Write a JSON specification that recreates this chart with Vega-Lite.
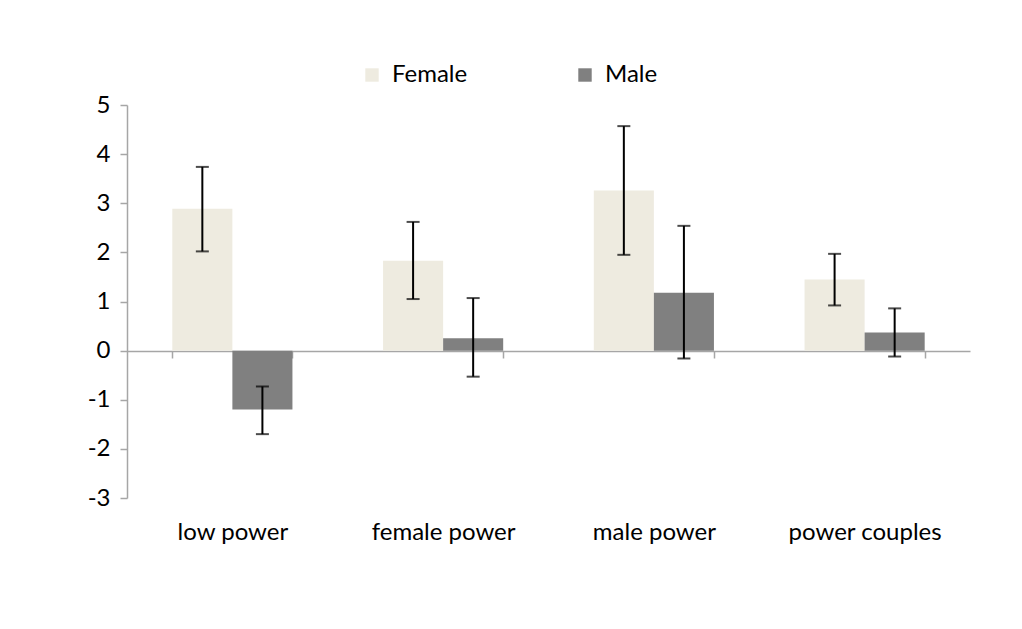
{
  "$schema": "https://vega.github.io/schema/vega-lite/v6.json",
  "width": 843,
  "height": 393,
  "autosize": {"type": "none"},
  "padding": {"left": 127, "top": 105, "right": 52, "bottom": 131},
  "background": "white",
  "config": {
    "view": {"stroke": null},
    "font": "Lato",
    "axis": {"labelFont": "Lato", "labelFontSize": 24, "labelColor": "#000000", "domainColor": "#a6a6a6", "tickColor": "#a6a6a6", "domainWidth": 1.5, "tickWidth": 1.5, "grid": false, "title": null}
  },
  "data": {
    "values": [
      {"group": "low power", "sex": "Female", "value": 2.89, "lo": 2.02, "hi": 3.74},
      {"group": "low power", "sex": "Male", "value": -1.2, "lo": -1.7, "hi": -0.73},
      {"group": "female power", "sex": "Female", "value": 1.83, "lo": 1.05, "hi": 2.62},
      {"group": "female power", "sex": "Male", "value": 0.25, "lo": -0.53, "hi": 1.07},
      {"group": "male power", "sex": "Female", "value": 3.26, "lo": 1.95, "hi": 4.57},
      {"group": "male power", "sex": "Male", "value": 1.18, "lo": -0.16, "hi": 2.54},
      {"group": "power couples", "sex": "Female", "value": 1.45, "lo": 0.92, "hi": 1.97},
      {"group": "power couples", "sex": "Male", "value": 0.37, "lo": -0.12, "hi": 0.86}
    ]
  },
  "encoding": {
    "x": {
      "field": "group", "type": "nominal", "sort": null,
      "scale": {"paddingInner": 0.43, "paddingOuter": 0.215},
      "axis": {"offset": -147, "labelAngle": 0, "tickBand": "extent", "tickSize": 7, "labelPadding": 162, "labelBaseline": "top"}
    },
    "xOffset": {"field": "sex", "type": "nominal", "scale": {"paddingInner": 0, "paddingOuter": 0}}
  },
  "layer": [
    {
      "mark": {"type": "bar"},
      "encoding": {
        "y": {"field": "value", "type": "quantitative", "scale": {"domain": [-3, 5], "nice": false, "zero": false}, "axis": {"values": [-3, -2, -1, 0, 1, 2, 3, 4, 5], "tickSize": 7, "labelPadding": 10, "labelExpr": "datum.value < 0 ? '-' + abs(datum.value) : '' + datum.value"}},
        "color": {
          "field": "sex", "type": "nominal",
          "scale": {"domain": ["Female", "Male"], "range": ["#eeebe0", "#808080"]},
          "legend": {"title": null, "orient": "none", "legendX": 233, "legendY": -42, "direction": "horizontal", "symbolType": "square", "symbolSize": 180, "symbolStrokeWidth": 0, "labelFont": "Lato", "labelFontSize": 24, "labelColor": "#000000", "labelOffset": 8, "columnPadding": 105}
        }
      }
    },
    {
      "mark": {"type": "rule", "color": "#000000", "strokeWidth": 2},
      "encoding": {"y": {"field": "lo", "type": "quantitative"}, "y2": {"field": "hi"}}
    },
    {
      "mark": {"type": "tick", "color": "#000000", "thickness": 2, "size": 13, "orient": "horizontal"},
      "encoding": {"y": {"field": "lo", "type": "quantitative"}}
    },
    {
      "mark": {"type": "tick", "color": "#000000", "thickness": 2, "size": 13, "orient": "horizontal"},
      "encoding": {"y": {"field": "hi", "type": "quantitative"}}
    }
  ]
}
